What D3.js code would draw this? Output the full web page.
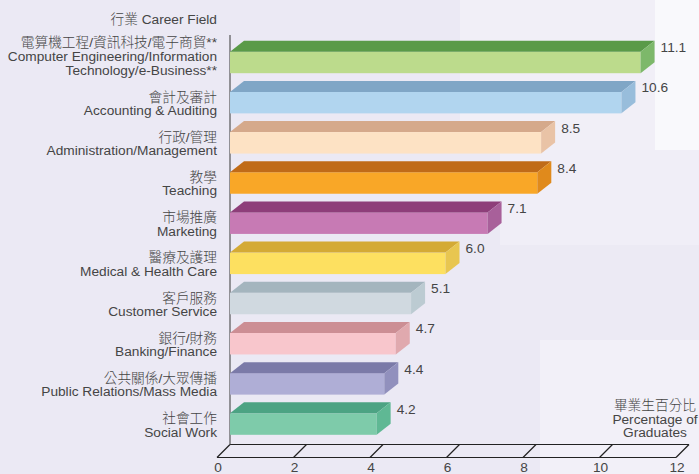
<!DOCTYPE html>
<html lang="zh-Hant">
<head>
<meta charset="UTF-8">
<title>Career Field</title>
<script src="https://cdn.jsdelivr.net/npm/d3@7/dist/d3.min.js"></script>
<style>
    body { margin: 0; background: #ebe9f4; }
    svg { display: block; }
    text { font-family: "Liberation Sans", Arial, "Noto Sans CJK TC", sans-serif; fill: #454545; }
    .zh { font-weight: 300; }
</style>
</head>
<body>
<script>
// 資料
var categoriesZh = ["電算機工程/資訊科技/電子商貿**", "會計及審計", "行政/管理", "教學", "市場推廣",
    "醫療及護理", "客戶服務", "銀行/財務", "公共關係/大眾傳播", "社會工作"];
var categoriesEn = ["Computer Engineering/Information|Technology/e-Business**", "Accounting & Auditing",
    "Administration/Management", "Teaching", "Marketing", "Medical & Health Care", "Customer Service",
    "Banking/Finance", "Public Relations/Mass Media", "Social Work"];
var values = [11.1, 10.6, 8.5, 8.4, 7.1, 6.0, 5.1, 4.7, 4.4, 4.2];
var xTicks = [0, 2, 4, 6, 8, 10, 12];
// 顏色: 正面 / 頂面 / 側面
var frontColors = ["#bcdb8c", "#b1d5ef", "#fde2c4", "#f9a727", "#c77ab4", "#fde060", "#d0d9e0", "#f8c6cc", "#afaed6", "#7ecbaa"];
var topColors   = ["#5a9a48", "#80a6c6", "#d5a98b", "#c06b18", "#8e3e7a", "#d4aa35", "#a4b5be", "#cc8e94", "#7b7aa8", "#4ca383"];
var sideColors  = ["#7db86a", "#98bddb", "#e9c3a6", "#e08a1c", "#a8609a", "#e8c650", "#bccbd2", "#e0a9ae", "#9190bd", "#5fb894"];

var W = 699, H = 474;
var dx = 14, dy = 11;   // 立體深度
var fs = 13.7;

var svg = d3.select("body").append("svg").attr("width", W).attr("height", H);

// 背景淡色區塊
var bg = [[460, 0, 239, 150, 0.3], [655, 0, 44, 150, 0.6], [500, 150, 199, 95, 0.25],
          [500, 245, 199, 95, 0.08], [540, 340, 159, 134, 0.35]];
svg.selectAll(".bg").data(bg).enter().append("rect")
    .attr("x", d => d[0]).attr("y", d => d[1]).attr("width", d => d[2]).attr("height", d => d[3])
    .attr("fill", "#fff").attr("fill-opacity", d => d[4]);

var x = d3.scaleLinear().domain([0, 12]).range([230, 689]);
var y = d3.scaleBand().domain(categoriesZh).range([51.7, 434.8]).paddingInner(0.465).paddingOuter(0);
var bh = y.bandwidth();

var data = categoriesZh.map((c, i) => ({zh: c, en: categoriesEn[i].split("|"), v: values[i], i: i}));

// 底部平面軸
var x0 = x(0), fx = 13, fy = 13, floorTop = 444.5;
var axis = svg.append("g").attr("fill", "none").attr("stroke", "#222").attr("stroke-width", 1.2);
axis.append("line").attr("x1", x0).attr("x2", x(12)).attr("y1", floorTop).attr("y2", floorTop);
axis.append("line").attr("x1", x0 - fx).attr("x2", x(12) - fx).attr("y1", floorTop + fy).attr("y2", floorTop + fy);
axis.selectAll(".tk").data(xTicks).enter().append("line")
    .attr("x1", d => x(d)).attr("y1", floorTop).attr("x2", d => x(d) - fx).attr("y2", floorTop + fy);
axis.append("line").attr("x1", x0).attr("x2", x0).attr("y1", 35).attr("y2", floorTop)
    .attr("stroke", "#555");

svg.selectAll(".tick-label").data(xTicks).enter().append("text")
    .attr("x", d => x(d) - fx + 1).attr("y", 472)
    .attr("text-anchor", "middle").attr("font-size", fs)
    .text(d => d);

// 立體長條
var bars = svg.selectAll(".bar").data(data).enter().append("g").attr("class", "bar");
bars.append("rect")
    .attr("x", x0).attr("y", d => y(d.zh))
    .attr("width", d => x(d.v) - dx - x0).attr("height", bh)
    .attr("fill", d => frontColors[d.i]);
bars.append("polygon")
    .attr("points", d => {
        var t = y(d.zh), r = x(d.v) - dx;
        return [[x0, t], [x0 + dx, t - dy], [r + dx, t - dy], [r, t]].join(" ");
    })
    .attr("fill", d => topColors[d.i]);
bars.append("polygon")
    .attr("points", d => {
        var t = y(d.zh), r = x(d.v) - dx;
        return [[r, t], [r + dx, t - dy], [r + dx, t + bh - dy], [r, t + bh]].join(" ");
    })
    .attr("fill", d => sideColors[d.i]);

bars.append("text")
    .attr("x", d => x(d.v) + 6).attr("y", d => y(d.zh) + 0.5)
    .attr("font-size", fs)
    .text(d => d.v.toFixed(1));

// 類別標籤
var labels = svg.selectAll(".cat").data(data).enter().append("text")
    .attr("text-anchor", "end").attr("font-size", fs);
labels.each(function(d) {
    var lines = [d.zh].concat(d.en);
    var c = y(d.zh) + bh / 2;
    var step = lines.length > 2 ? 14 : 13.5;
    var first = c + 12.5 - step * (lines.length - 1);
    d3.select(this).selectAll("tspan").data(lines).enter().append("tspan")
        .attr("class", (l, k) => k === 0 ? "zh" : null)
        .attr("x", 217).attr("y", (l, k) => first + step * k)
        .text(l => l);
});

svg.append("text").attr("x", 217).attr("y", 24).attr("text-anchor", "end")
    .attr("font-size", fs).html('<tspan class="zh">行業</tspan> Career Field');

var unit = ["畢業生百分比", "Percentage of", "Graduates"];
svg.append("text").attr("text-anchor", "middle").attr("font-size", fs)
    .selectAll("tspan").data(unit).enter().append("tspan")
    .attr("class", (d, k) => k === 0 ? "zh" : null)
    .attr("x", 655).attr("y", (d, k) => 410 + 13.5 * k).text(d => d);
</script>
</body>
</html>
